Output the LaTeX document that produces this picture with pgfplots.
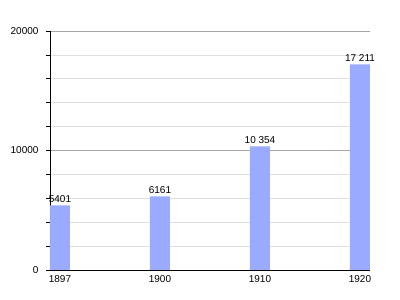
\documentclass[border=0pt]{standalone}
\usepackage{fontspec}
\setmainfont{Liberation Sans}
\usepackage{pgfplots}
\pgfplotsset{compat=1.18}
\definecolor{barblue}{RGB}{153,170,255}
\begin{document}
\begin{tikzpicture}[x=1pt,y=1pt]
\useasboundingbox (0,0) rectangle (400,300);
\begin{axis}[
 at={(50pt,30pt)}, anchor=south west,
 scale only axis, width=320pt, height=239pt,
 xmin=-0.1, xmax=3.1, ymin=0, ymax=20000,
 axis x line=bottom, axis y line=left,
 axis line style={-, black, line width=0.8pt},
 xtick={0,1,2,3}, xticklabels={1897,1900,1910,1920},
 x tick style={draw=none},
 ytick={0,10000,20000},
 minor y tick num=4,
 tick align=outside,
 major tick length=4pt, minor tick length=4pt,
 y tick style={black, line width=0.6pt},
 ymajorgrids, yminorgrids,
 major grid style={black!35, line width=0.6pt},
 minor grid style={black!12, line width=0.6pt},
 scaled y ticks=false,
 tick label style={font=\fontsize{10}{12}\selectfont},
 yticklabel style={xshift=-4pt},
 xticklabel style={yshift=2pt},
 /pgf/number format/1000 sep={},
 /pgf/number format/assume math mode=true,
]
\addplot[ybar, bar width=20pt, fill=barblue, draw=none,
  nodes near coords, point meta=explicit symbolic,
  every node near coord/.append style={font=\fontsize{10}{12}\selectfont, black, inner sep=2.5pt}]
 coordinates {(0,5401)[5401] (1,6161)[6161] (2,10354)[10 354] (3,17211)[17 211]};
\end{axis}
\end{tikzpicture}
\end{document}
